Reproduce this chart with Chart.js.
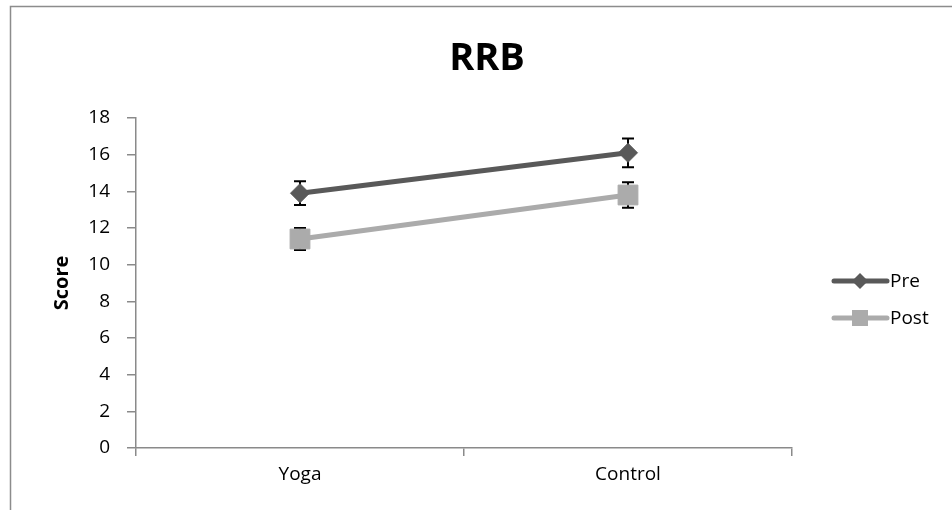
<!DOCTYPE html>
<html>
<head>
<meta charset="utf-8">
<script src="https://cdn.jsdelivr.net/npm/chart.js@4.4.0/dist/chart.umd.min.js"></script>
<style>
  html, body { margin: 0; padding: 0; background: #ffffff; }
  #c { display: block; }
</style>
</head>
<body>
<canvas id="c" width="952" height="510"></canvas>
<script>
// ---- data ----
const chartTitle = 'RRB';
const yAxisTitle = 'Score';
const categories = ['Yoga', 'Control'];
const seriesNames = ['Pre', 'Post'];
const preValues = [13.9, 16.1];
const postValues = [11.4, 13.8];
const preErrors = [0.65, 0.78];
const postErrors = [0.6, 0.7];
const yMin = 0;
const yMax = 18;
const yStep = 2;

const PRE_COLOR = '#595959';
const POST_COLOR = '#ababab';
const AXIS_COLOR = '#8a8a8a';
const FONT = "'Open Sans', 'Liberation Sans', sans-serif";

const errorSets = [preErrors, postErrors];

const extrasPlugin = {
  id: 'extras',
  beforeDraw(chart) {
    const ctx = chart.ctx;
    ctx.save();
    ctx.fillStyle = '#ffffff';
    ctx.fillRect(0, 0, chart.width, chart.height);
    ctx.strokeStyle = '#8c8c8c';
    ctx.lineWidth = 1.5;
    ctx.strokeRect(10.5, 6.5, 1200, 1200);
    ctx.restore();
  },
  beforeDatasetsDraw(chart) {
    const ctx = chart.ctx;
    const xs = chart.scales.x, ys = chart.scales.y;
    ctx.save();
    ctx.strokeStyle = '#000000';
    ctx.lineWidth = 2;
    chart.data.datasets.forEach((ds, di) => {
      const errs = errorSets[di];
      ds.data.forEach((v, i) => {
        const x = xs.getPixelForValue(i);
        const yt = ys.getPixelForValue(v + errs[i]);
        const yb = ys.getPixelForValue(v - errs[i]);
        ctx.beginPath();
        ctx.moveTo(x, yt); ctx.lineTo(x, yb);
        ctx.moveTo(x - 6, yt); ctx.lineTo(x + 6, yt);
        ctx.moveTo(x - 6, yb); ctx.lineTo(x + 6, yb);
        ctx.stroke();
      });
    });
    ctx.restore();
  },
  afterDraw(chart) {
    const ctx = chart.ctx;
    ctx.save();
    // title
    ctx.fillStyle = '#000000';
    ctx.font = "bold 38px " + FONT;
    ctx.textAlign = 'center';
    ctx.textBaseline = 'alphabetic';
    ctx.fillText(chartTitle, 487, 70);
    // legend
    const items = [
      { name: seriesNames[0], color: PRE_COLOR, style: 'diamond', y: 281 },
      { name: seriesNames[1], color: POST_COLOR, style: 'square', y: 318 }
    ];
    items.forEach(it => {
      ctx.strokeStyle = it.color;
      ctx.lineWidth = 5;
      ctx.lineCap = 'round';
      ctx.beginPath();
      ctx.moveTo(834, it.y); ctx.lineTo(887, it.y);
      ctx.stroke();
      ctx.fillStyle = it.color;
      ctx.beginPath();
      if (it.style === 'diamond') {
        ctx.moveTo(860, it.y - 8); ctx.lineTo(868, it.y); ctx.lineTo(860, it.y + 8); ctx.lineTo(852, it.y);
        ctx.closePath();
      } else {
        ctx.rect(852, it.y - 8, 16, 16);
      }
      ctx.fill();
      ctx.fillStyle = '#000000';
      ctx.font = "19px " + FONT;
      ctx.textAlign = 'left';
      ctx.textBaseline = 'middle';
      ctx.fillText(it.name, 890, it.y + 1);
    });
    ctx.restore();
  }
};

new Chart(document.getElementById('c'), {
  type: 'line',
  data: {
    labels: categories,
    datasets: [
      {
        label: seriesNames[0],
        data: preValues,
        borderColor: PRE_COLOR,
        backgroundColor: PRE_COLOR,
        borderWidth: 5,
        pointStyle: 'rectRot',
        pointRadius: 9.5,
        pointBorderWidth: 1,
        pointBorderColor: PRE_COLOR,
        pointBackgroundColor: PRE_COLOR,
        tension: 0
      },
      {
        label: seriesNames[1],
        data: postValues,
        borderColor: POST_COLOR,
        backgroundColor: POST_COLOR,
        borderWidth: 5,
        pointStyle: 'rect',
        pointRadius: 14,
        pointBorderWidth: 1,
        pointBorderColor: POST_COLOR,
        pointBackgroundColor: POST_COLOR,
        tension: 0
      }
    ]
  },
  options: {
    responsive: false,
    animation: false,
    events: [],
    layout: { padding: { left: 10, top: 118, right: 160, bottom: 0 } },
    plugins: {
      legend: { display: false },
      title: { display: false },
      tooltip: { enabled: false }
    },
    scales: {
      x: {
        type: 'category',
        offset: true,
        grid: {
          offset: true,
          drawOnChartArea: false,
          drawTicks: true,
          tickLength: 8,
          color: AXIS_COLOR,
          lineWidth: 1.5
        },
        border: { color: AXIS_COLOR, width: 1.5 },
        ticks: {
          color: '#000000',
          font: { family: FONT, size: 19 },
          padding: 7,
          maxRotation: 0
        },
        afterFit(scale) { scale.height = 62; }
      },
      y: {
        min: yMin,
        max: yMax,
        grid: {
          drawOnChartArea: false,
          drawTicks: true,
          tickLength: 9,
          color: AXIS_COLOR,
          lineWidth: 1.5
        },
        border: { color: AXIS_COLOR, width: 1.5 },
        ticks: {
          stepSize: yStep,
          color: '#000000',
          font: { family: FONT, size: 19 },
          padding: 17
        },
        title: {
          display: true,
          text: yAxisTitle,
          color: '#000000',
          font: { family: FONT, size: 20, weight: 'bold' },
          padding: { top: 40, bottom: 0 }
        },
        afterFit(scale) { scale.width = 126; }
      }
    }
  },
  plugins: [extrasPlugin]
});
</script>
</body>
</html>
